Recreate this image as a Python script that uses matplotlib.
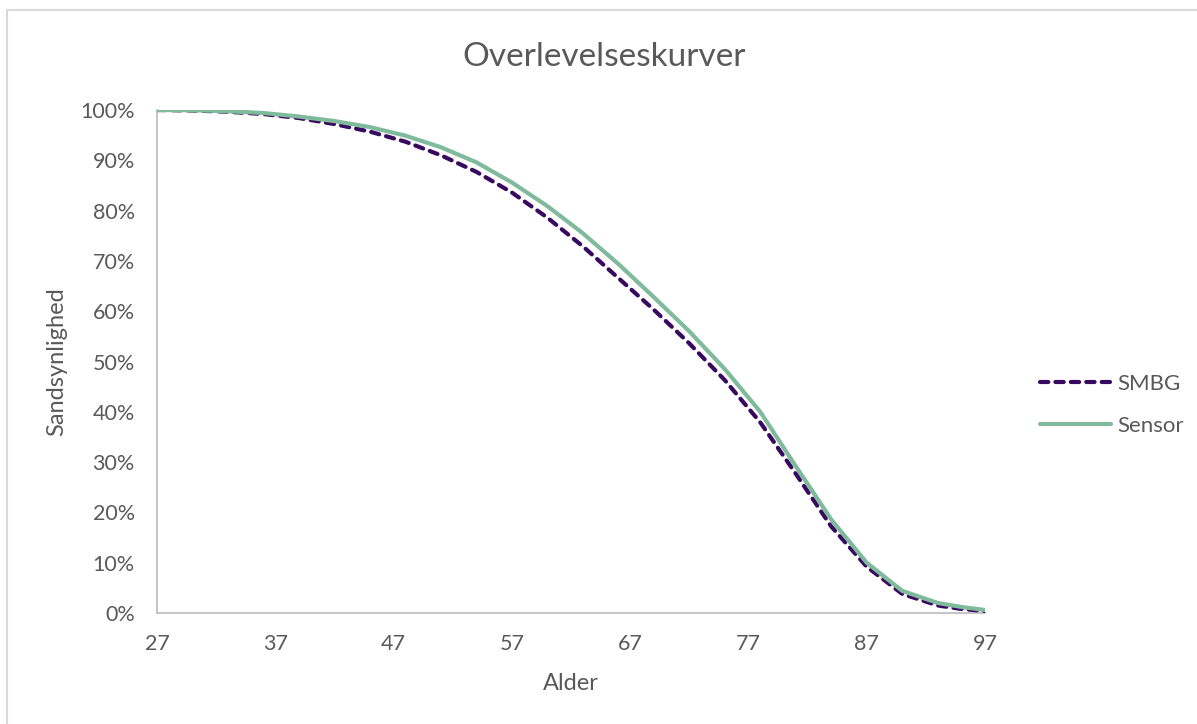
import matplotlib
matplotlib.use("Agg")
import matplotlib.pyplot as plt
from matplotlib.patches import Rectangle
from matplotlib.ticker import PercentFormatter

ages = [27, 30, 33, 36, 39, 42, 45, 48, 51, 54, 57, 60, 63, 66, 69, 72, 75, 78, 81, 84, 87, 90, 93, 95, 97]
smbg = [100, 99.9, 99.65, 99.2, 98.4, 97.2, 95.7, 93.7, 91.0, 87.7, 83.6, 78.6, 72.9, 66.6, 60.3, 53.6,
        46.3, 37.9, 27.7, 17.2, 9.2, 3.8, 1.5, 0.8, 0.4]
sensor = [100, 99.95, 99.75, 99.4, 98.7, 97.8, 96.6, 94.9, 92.6, 89.6, 85.6, 80.9, 75.5, 69.4, 62.8, 56.0,
          48.5, 40.0, 29.2, 18.6, 10.0, 4.4, 2.0, 1.2, 0.6]
xticks = [27, 37, 47, 57, 67, 77, 87, 97]
yticks = list(range(0, 101, 10))

title = "Overlevelseskurver"
xlabel = "Alder"
ylabel = "Sandsynlighed"
labels = ["SMBG", "Sensor"]

W, H = 1197, 724
plt.rcParams['font.family'] = ['Lato', 'DejaVu Sans']
txt = '#595959'

fig = plt.figure(figsize=(W / 100, H / 100), dpi=100)
fig.patch.set_facecolor('white')

# outer chart frame (only left/top visible in the crop)
fig.patches.append(Rectangle((7 / W, -0.1), 1.2, (1 - 10 / H) + 0.1, transform=fig.transFigure,
                             fill=False, edgecolor='#D9D9D9', linewidth=1.5))

ax = fig.add_axes([157 / W, (H - 613) / H, (985 - 157) / W, (613 - 110) / H])
ax.plot(ages, smbg, color='#380A5F', linewidth=3.0, linestyle=(0, (2.0, 1.7)),
        dash_capstyle='round', solid_joinstyle='round', label=labels[0], zorder=3)
ax.plot(ages, sensor, color='#80BA9C', linewidth=3.0, solid_capstyle='round',
        solid_joinstyle='round', label=labels[1], zorder=4)

ax.set_xlim(27, 97)
ax.set_ylim(0, 100)
ax.set_xticks(xticks)
ax.set_yticks(yticks)
ax.yaxis.set_major_formatter(PercentFormatter(100, decimals=0))
ax.tick_params(axis='both', length=0, labelsize=15.5, colors=txt)
ax.tick_params(axis='x', pad=15)
ax.tick_params(axis='y', pad=16)
for s in ['top', 'right']:
    ax.spines[s].set_visible(False)
for s in ['left', 'bottom']:
    ax.spines[s].set_color('#BFBFBF')
    ax.spines[s].set_linewidth(1.3)

fig.text(604 / W, 1 - 57 / H, title, ha='center', va='center', fontsize=24, color=txt)
fig.text(571 / W, 1 - 683 / H, xlabel, ha='center', va='center', fontsize=17, color=txt)
fig.text(57 / W, 1 - 362 / H, ylabel, ha='center', va='center', fontsize=17, color=txt, rotation=90)

leg = ax.legend(loc='center left', bbox_to_anchor=(1040 / W, 1 - 405 / H),
                bbox_transform=fig.transFigure, frameon=False, fontsize=16,
                handlelength=3.2, handletextpad=0.3, labelspacing=1.0,
                borderpad=0, borderaxespad=0)
for t in leg.get_texts():
    t.set_color(txt)

fig.savefig('out.png', dpi=100, facecolor='white')
